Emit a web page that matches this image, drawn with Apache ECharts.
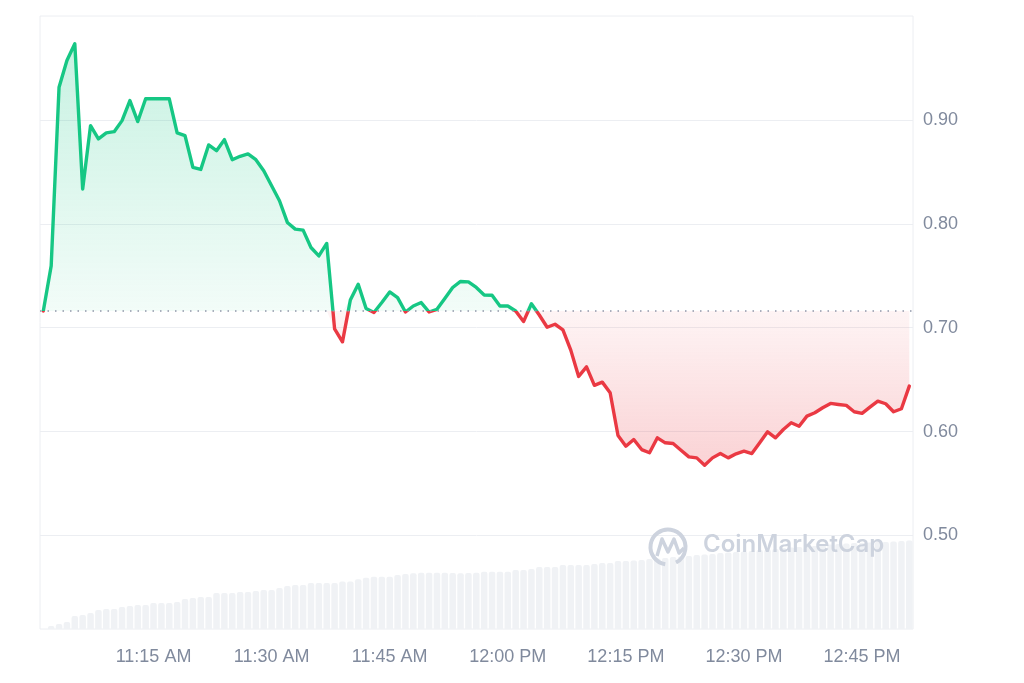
<!DOCTYPE html>
<html>
<head>
<meta charset="utf-8">
<title>Price chart</title>
<script src="https://cdn.jsdelivr.net/npm/echarts@6/dist/echarts.min.js"></script>
<style>
  html, body { margin: 0; padding: 0; background: #fff; }
  #chart { width: 1024px; height: 683px; }
</style>
</head>
<body>
<div id="chart"></div>
<script>
// price, one point per minute starting 11:01
const prices = [
  0.7161, 0.7595, 0.9315, 0.9572, 0.9733, 0.8335, 0.8945, 0.8817, 0.8875, 0.8887,
  0.8993, 0.9186, 0.8984, 0.9203, 0.9203, 0.9203, 0.9203, 0.8875, 0.8849, 0.8544,
  0.8523, 0.8759, 0.8704, 0.8810, 0.8617, 0.8650, 0.8672, 0.8617, 0.8511, 0.8366,
  0.8222, 0.8013, 0.7949, 0.7939, 0.7772, 0.7691, 0.7811, 0.6989, 0.6864, 0.7266,
  0.7419, 0.7184, 0.7146, 0.7242, 0.7344, 0.7290, 0.7151, 0.7209, 0.7242, 0.7151,
  0.7177, 0.7281, 0.7387, 0.7445, 0.7441, 0.7387, 0.7315, 0.7312, 0.7209, 0.7209,
  0.7161, 0.7059, 0.7230, 0.7122, 0.7004, 0.7033, 0.6980, 0.6784, 0.6531, 0.6623,
  0.6445, 0.6476, 0.6374, 0.5962, 0.5859, 0.5924, 0.5827, 0.5796, 0.5940, 0.5892,
  0.5885, 0.5821, 0.5757, 0.5747, 0.5676, 0.5747, 0.5789, 0.5747, 0.5786, 0.5811,
  0.5789, 0.5892, 0.5998, 0.5940, 0.6020, 0.6085, 0.6052, 0.6149, 0.6181, 0.6229,
  0.6271, 0.6261, 0.6252, 0.6191, 0.6175, 0.6235, 0.6293, 0.6268, 0.6191, 0.6220,
  0.6438
];
// volume (K), same minutes
const volumes = [
  0, 3, 5, 7, 13, 14, 16, 19, 20, 20,
  22, 23, 24, 24, 26, 26, 26, 27, 30, 31,
  32, 32, 36, 36, 36, 37, 37, 38, 39, 39,
  41, 43, 44, 44, 46, 46, 46, 46, 47.6, 47.6,
  49.7, 51.3, 52.3, 52.3, 52.3, 54, 55, 55.7, 56.3, 56.3,
  56.3, 56.3, 56, 55.7, 56, 56.3, 57.3, 57.3, 57.3, 57.3,
  59, 59, 60, 62, 62, 62, 64, 64, 64, 64,
  65, 66, 66, 68, 68, 68.5, 69, 70, 70.5, 71,
  72, 72.5, 73, 74, 74.5, 75, 76, 76.5, 77, 77.5,
  78, 79, 79.5, 80, 81, 81.5, 82, 82.5, 83, 84,
  84.5, 85, 85.5, 86, 86, 86.5, 87, 87, 87.5, 88,
  88.5
];
const firstMinute = 1; // minutes after 11:00
const tickMinutes = [15, 30, 45, 60, 75, 90, 105];
const tickLabels = ['11:15 AM', '11:30 AM', '11:45 AM', '12:00 PM', '12:15 PM', '12:30 PM', '12:45 PM'];
const priceTicks = [0.5, 0.6, 0.7, 0.8, 0.9];

const base = prices[0]; // open price, reference line
const GREEN = '#16c784';
const RED = '#ea3943';
const labelColor = '#808a9d';
const labelFont = 'Liberation Sans, Arial, sans-serif';

let linePts = [], upPts = [], downPts = [], volPts = [];
for (let i = 0; i < prices.length; i++) {
  let m = firstMinute + i;
  linePts.push([m, prices[i]]);
  upPts.push([m, Math.max(prices[i], base)]);
  downPts.push([m, Math.min(prices[i], base)]);
  volPts.push([m, volumes[i]]);
}

let chart = echarts.init(document.getElementById('chart'));
let option = {
  animation: false,
  grid: {
    left: 40,
    right: 111,
    top: 16,
    bottom: 54,
    show: true,
    borderColor: '#eceef2',
    borderWidth: 1,
  },
  xAxis: {
    type: 'value',
    min: 0.58,
    max: 111.47,
    axisLine: { show: false },
    axisTick: { show: false, customValues: tickMinutes },
    splitLine: { show: false },
    axisLabel: {
      customValues: tickMinutes,
      margin: 19,
      color: labelColor,
      fontSize: 18,
      fontFamily: labelFont,
      formatter: (val) => tickLabels[tickMinutes.indexOf(val)] || '',
    },
  },
  yAxis: [
    {
      type: 'value',
      position: 'right',
      min: 0.41,
      max: 1.0,
      axisLine: { show: false },
      axisTick: { show: false, customValues: priceTicks },
      axisLabel: {
        customValues: priceTicks,
        margin: 10,
        color: labelColor,
        fontSize: 18,
        fontFamily: labelFont,
        formatter: (val) => val.toFixed(2),
      },
      splitLine: { show: true, lineStyle: { color: '#eceef2', width: 1 } },
    },
    {
      type: 'value',
      position: 'left',
      min: 0,
      max: 613,
      show: false,
      splitLine: { show: false },
    },
  ],
  visualMap: {
    show: false,
    type: 'piecewise',
    seriesIndex: 3,
    dimension: 1,
    pieces: [
      { gte: 0, lt: base, color: RED },
      { gte: base, lte: 2, color: GREEN },
    ],
  },
  graphic: [
    {
      type: 'arc',
      shape: { cx: 668, cy: 547, r: 17.5, startAngle: Math.PI * 0.55, endAngle: Math.PI * 0.35 },
      style: { stroke: '#cdd3de', lineWidth: 4, fill: 'none' },
      z: 1,
    },
    {
      type: 'polyline',
      shape: { points: [[657, 556], [662, 539], [668, 552], [674, 539], [679, 553], [684, 548]] },
      style: { stroke: '#cdd3de', lineWidth: 3.5, fill: 'none', lineJoin: 'round' },
      z: 1,
    },
    {
      type: 'text',
      left: 703,
      top: 533,
      style: {
        text: 'CoinMarketCap',
        fill: '#cdd3de',
        font: '600 24px Inter, "Noto Sans", sans-serif',
      },
      z: 1,
    },
  ],
  series: [
    {
      // volume bars
      type: 'bar',
      yAxisIndex: 1,
      data: volPts,
      barWidth: 6.5,
      itemStyle: { color: '#f0f2f5', borderRadius: [2, 2, 0, 0] },
      silent: true,
      z: 0,
    },
    {
      // fill above open
      type: 'line',
      data: upPts,
      symbol: 'none',
      lineStyle: { width: 0, opacity: 0 },
      areaStyle: {
        origin: base,
        color: new echarts.graphic.LinearGradient(0, 0, 0, 1, [
          { offset: 0, color: 'rgba(22,199,132,0.34)' },
          { offset: 1, color: 'rgba(22,199,132,0.08)' },
        ]),
      },
      silent: true,
      z: 2,
    },
    {
      // fill below open
      type: 'line',
      data: downPts,
      symbol: 'none',
      lineStyle: { width: 0, opacity: 0 },
      areaStyle: {
        origin: base,
        color: new echarts.graphic.LinearGradient(0, 0, 0, 1, [
          { offset: 0, color: 'rgba(234,57,67,0.08)' },
          { offset: 1, color: 'rgba(234,57,67,0.32)' },
        ]),
      },
      silent: true,
      z: 2,
    },
    {
      // price line
      type: 'line',
      data: linePts,
      symbol: 'none',
      lineStyle: { width: 3.4, join: 'round', cap: 'round' },
      z: 4,
      markLine: {
        silent: true,
        symbol: 'none',
        precision: 4,
        label: { show: false },
        lineStyle: { color: '#8f96a8', type: [1.5, 6], width: 1.5 },
        data: [{ yAxis: base }],
      },
    },
  ],
};
chart.setOption(option);
</script>
</body>
</html>
